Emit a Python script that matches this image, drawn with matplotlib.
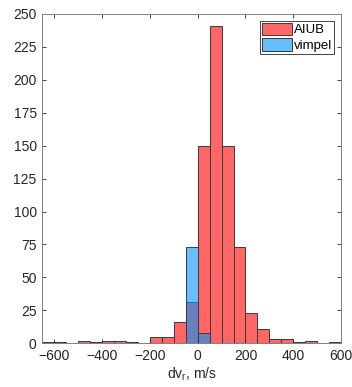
import numpy as np
import matplotlib
matplotlib.use("Agg")
from matplotlib import pyplot as plt

# bin edges (m/s) and counts per bin
edges = np.arange(-650, 601, 50)
aiub_counts = [1, 1, 0, 2, 1, 2, 2, 1, 0, 5, 5, 16, 31, 150, 241, 150, 73, 23, 11, 3, 3, 1, 2, 0, 1]
vimpel_counts = [0, 0, 0, 0, 0, 0, 0, 0, 0, 0, 0, 0, 73, 8, 0, 0, 0, 0, 0, 0, 0, 0, 0, 0, 0]
labels = ["AIUB", "vimpel"]

plt.rcParams['font.family'] = ['Liberation Sans', 'DejaVu Sans']
plt.rcParams['font.size'] = 10

fig = plt.figure(figsize=(3.52, 3.87), dpi=100)
ax = fig.add_axes([0.120, 0.113, 0.849, 0.851])

centers = (edges[:-1] + edges[1:]) / 2
ax.hist(centers, bins=edges, weights=aiub_counts, facecolor=(1, 0, 0, 0.6),
        edgecolor='#3a3a3a', linewidth=0.7, label=labels[0])
ax.hist(centers, bins=edges, weights=vimpel_counts, facecolor=(0, 0.58, 1, 0.6),
        edgecolor='#3a3a3a', linewidth=0.7, label=labels[1])

ax.set_xlim(-650, 600)
ax.set_ylim(0, 250)
ax.set_xticks(np.arange(-600, 601, 200))
ax.set_yticks(np.arange(0, 251, 25))
ax.tick_params(direction='in', top=True, right=True, length=3, width=0.6,
               colors='#262626', labelsize=10, pad=4)
for s in ax.spines.values():
    s.set_color('#808080')
    s.set_linewidth(0.7)
ax.set_xlabel('dv$_\\mathregular{r}$, m/s', color='#262626', labelpad=2)

leg = ax.legend(loc='upper right', fancybox=False, framealpha=1, edgecolor='#262626',
                borderaxespad=0.5, handlelength=2.3, handleheight=1.1, handletextpad=0.15,
                borderpad=0.15, labelspacing=0.15, fontsize=9.5)
leg.get_frame().set_linewidth(0.6)

fig.savefig('out.png', dpi=100)
